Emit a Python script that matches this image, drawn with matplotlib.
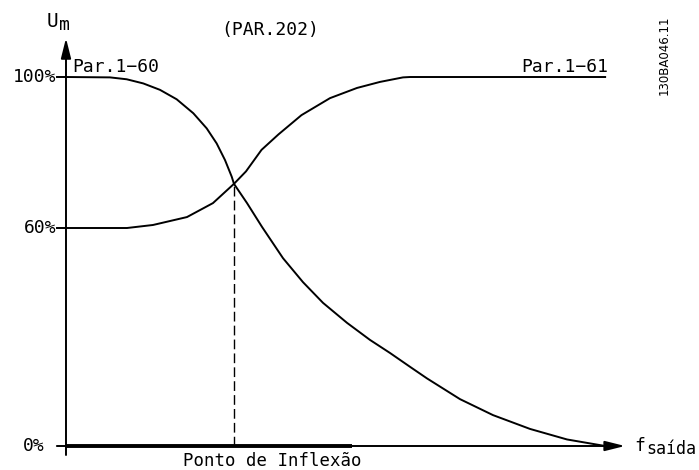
import matplotlib
matplotlib.use("Agg")
import numpy as np
import matplotlib.pyplot as plt
from matplotlib.patches import FancyArrowPatch

# ---- data (x: output frequency, arbitrary units; y: motor voltage %) ----
fall_x = [0, 8.19, 11.30, 14.39, 17.50, 20.61, 23.71, 26.20, 28.06, 29.61, 30.86, 31.28,
          33.71, 36.50, 40.41, 44.13, 47.86, 52.33, 56.61, 60.34, 64.06, 67.23, 73.37,
          79.52, 86.41, 93.30, 100.4]
fall_y = [100, 99.9, 99.4, 98.3, 96.6, 94.1, 90.4, 86.4, 82.4, 78.0, 73.6, 71.7,
          66.6, 60.3, 51.7, 45.1, 39.4, 33.9, 29.2, 25.6, 21.8, 18.6, 12.9,
          8.5, 4.7, 1.8, 0]
rise_x = [0, 11.36, 16.20, 22.53, 27.37, 31.28, 33.52, 36.41, 39.57, 43.85, 49.16,
          54.19, 58.47, 62.76, 64.06, 100.4]
rise_y = [60, 60, 60.8, 62.9, 66.6, 71.7, 75.0, 80.7, 84.8, 89.9, 94.4,
          97.1, 98.7, 99.9, 100, 100]
inflection_x = 31.28
inflection_y = 71.7
ytick_vals = [100, 60, 0]
ytick_labels = ["100%", "60%", "0%"]


# piecewise-linear voltage scale (as drawn in the diagram)
def fwd(y):
    y = np.asarray(y, dtype=float)
    return np.where(y <= 60, y * 218 / 60, 218 + (y - 60) * 151 / 40)


def inv(h):
    h = np.asarray(h, dtype=float)
    return np.where(h <= 218, h * 60 / 218, 60 + (h - 218) * 40 / 151)


fig = plt.figure(figsize=(6.99, 4.70), dpi=100)
ax = fig.add_axes([0, 0, 1, 1])
ax.set_yscale("function", functions=(fwd, inv))
ax.set_xlim(-12.29, 117.88)
ax.set_ylim(-6.606, 120.4)
ax.axis("off")

lw = 1.4
mono = "DejaVu Sans Mono"
fs = 13

# curves
ax.plot(fall_x, fall_y, color="black", lw=lw, solid_joinstyle="round")
ax.plot(rise_x, rise_y, color="black", lw=lw, solid_joinstyle="round")

# inflection dashed line
ax.plot([inflection_x, inflection_x], [0, inflection_y], color="black", lw=1.0,
        linestyle=(0, (7, 3)))

# axes with arrows
arrow_style = "-|>,head_length=1.2,head_width=0.3"
ax.add_patch(FancyArrowPatch((0, -2.48), (0, 110.3), arrowstyle=arrow_style,
                             mutation_scale=10, color="black", lw=lw,
                             shrinkA=0, shrinkB=0))
ax.add_patch(FancyArrowPatch((-1.7, 0), (104.1, 0), arrowstyle=arrow_style,
                             mutation_scale=10, color="black", lw=lw,
                             shrinkA=0, shrinkB=0))
ax.plot([0, 53.3], [0, 0], color="black", lw=2.8, solid_capstyle="butt")

# y ticks & labels
for v, lab in zip(ytick_vals, ytick_labels):
    if v != 0:
        ax.plot([-1.7, 0], [v, v], color="black", lw=lw)
    ax.text(-1.8 if v != 0 else -3.9, v, lab, ha="right", va="center",
            fontsize=fs, family=mono)

# axis titles
ax.text(-3.54, 113.2, "U", ha="left", va="baseline", fontsize=14, family=mono)
ax.text(-1.3, 112.45, "m", ha="left", va="baseline", fontsize=fs, family=mono)
ax.text(105.9, -1.38, "f", ha="left", va="baseline", fontsize=fs, family=mono)
ax.text(108.1, -2.2, "saída", ha="left", va="baseline", fontsize=12, family=mono)

# annotations
ax.text(38.0, 112.45, "(PAR.202)", ha="center", va="center", fontsize=fs, family=mono)
ax.text(1.1, 101.3, "Par.1\u221260", ha="left", va="baseline", fontsize=fs, family=mono)
ax.text(100.9, 101.3, "Par.1\u221261", ha="right", va="baseline", fontsize=fs, family=mono)
ax.text(111.4, 105.8, "130BA046.11", ha="center", va="center", rotation=90,
        fontsize=8.5, family="DejaVu Sans")
ax.text(38.4, -4.13, "Ponto de Inflexão", ha="center", va="center", fontsize=12.5,
        family=mono)

fig.savefig("out.png", dpi=100)
